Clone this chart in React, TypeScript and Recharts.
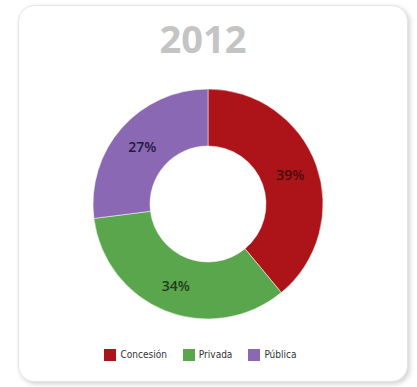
import React from "react";
import { PieChart, Pie, Cell, Legend } from "recharts";

const categories = ["Concesión", "Privada", "Pública"];
const values = [39, 34, 27];
const colors = ["#ad1419", "#5aa64c", "#8a68b3"];
const labelColors = ["#4a0c0c", "#1f3d1c", "#231a3d"];
const title = "2012";

const data = categories.map((name, i) => ({ name, value: values[i] }));

const RAD = Math.PI / 180;

const renderLabel = (props: any) => {
  const { cx, cy, midAngle, innerRadius, outerRadius, index, value } = props;
  const r = (innerRadius + outerRadius) / 2 + 1;
  const x = cx + r * Math.cos(-midAngle * RAD);
  const y = cy + r * Math.sin(-midAngle * RAD);
  return (
    <text
      x={x}
      y={y}
      textAnchor="middle"
      dominantBaseline="central"
      fontFamily="'Open Sans', sans-serif"
      fontWeight={600}
      fontSize={14}
      fill={labelColors[index]}
    >
      {value}%
    </text>
  );
};

export default function App() {
  return (
    <div style={{ position: "absolute", left: 0, top: 0, width: 417, height: 387, background: "#ffffff", overflow: "hidden" }}>
      <div
        style={{
          position: "absolute",
          left: 18,
          top: 5,
          width: 390,
          height: 377,
          borderRadius: 16,
          background: "#ffffff",
          border: "1px solid #e4e4e4",
          boxShadow: "2px 2px 5px rgba(0,0,0,0.18)",
          boxSizing: "border-box",
        }}
      />
      <div style={{ position: "absolute", left: 0, top: 0 }}>
        <PieChart width={417} height={387} margin={{ top: 0, right: 0, bottom: 0, left: 0 }}>
          <text
            x={203}
            y={38}
            textAnchor="middle"
            dominantBaseline="central"
            fontFamily="'Open Sans', sans-serif"
            fontWeight={700}
            fontSize={38}
            fill="#c4c4c4"
          >
            {title}
          </text>
          <Pie
            data={data}
            dataKey="value"
            nameKey="name"
            cx={208}
            cy={204}
            innerRadius={58}
            outerRadius={115}
            startAngle={90}
            endAngle={-270}
            stroke="#ffffff"
            strokeWidth={0.5}
            label={renderLabel}
            labelLine={false}
            isAnimationActive={false}
          >
            {data.map((d, i) => (
              <Cell key={d.name} fill={colors[i]} />
            ))}
          </Pie>
          <Legend
            verticalAlign="bottom"
            align="center"
            iconType="square"
            iconSize={12}
            wrapperStyle={{ top: 349, bottom: "auto", left: 0, width: 417, fontFamily: "'DejaVu Sans Condensed', 'Liberation Sans Narrow', sans-serif", fontSize: 10 }}
            formatter={(v: string) => <span style={{ color: "#333333", marginRight: 6 }}>{v}</span>}
          />
        </PieChart>
      </div>
    </div>
  );
}
